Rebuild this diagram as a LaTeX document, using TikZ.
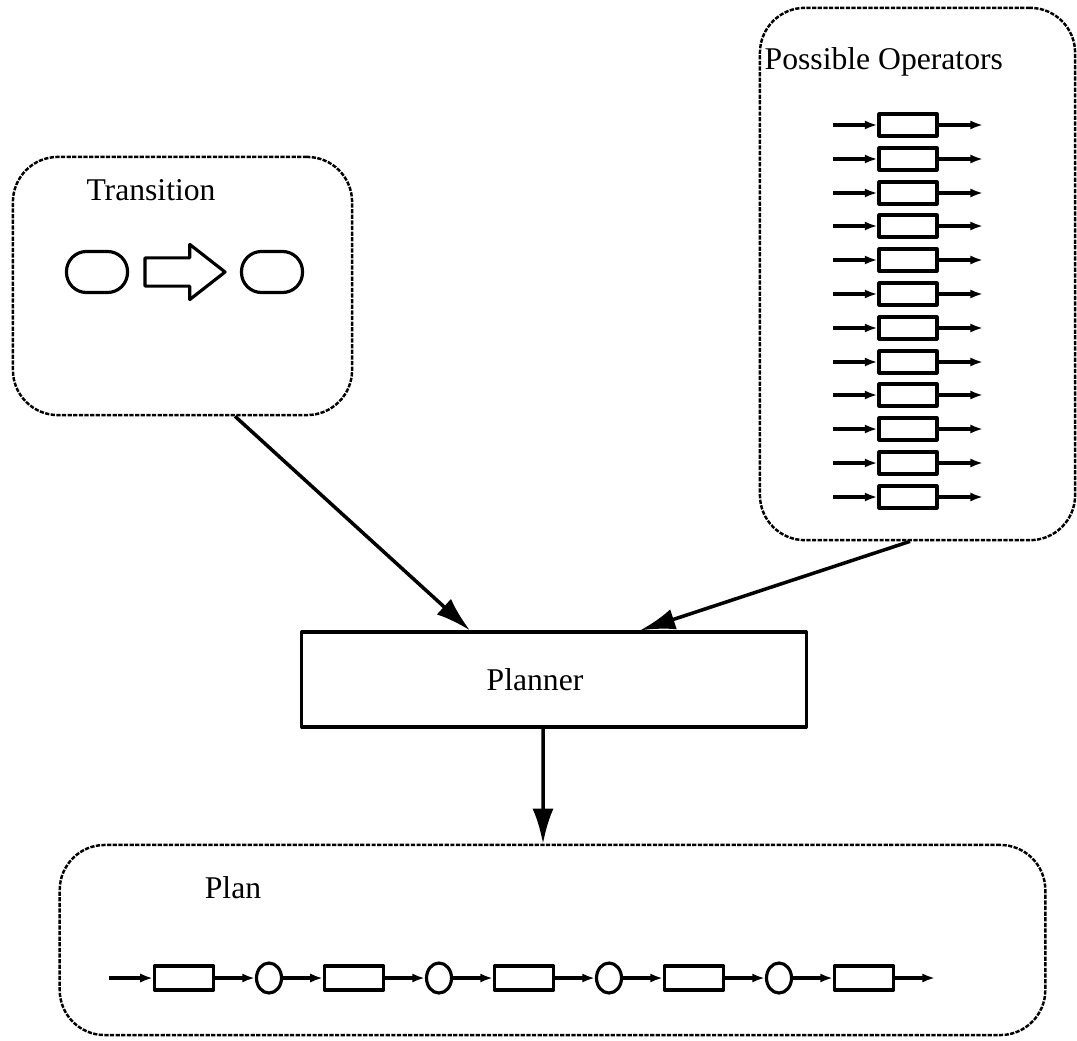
\documentclass[tikz,border=0pt]{standalone}
\usepackage{fontspec}
\setmainfont{Liberation Serif}
\usetikzlibrary{arrows.meta}
\usetikzlibrary{shapes.arrows}
\usetikzlibrary{shapes.geometric}

\begin{document}
\begin{tikzpicture}[x=0.01cm, y=-0.01cm, line join=round,
  every node/.style={font=\fontsize{9}{11}\selectfont},
  panel/.style={draw, rounded corners=0.45cm, line width=0.7pt, dash pattern=on 1.2pt off 0.4pt},
  opbox/.style={draw, line width=0.9pt, minimum width=0.58cm, minimum height=0.22cm, inner sep=0pt},
  planbox/.style={draw, line width=0.9pt, minimum width=0.59cm, minimum height=0.24cm, inner sep=0pt},
  statedot/.style={draw, ellipse, line width=0.9pt, minimum width=0.25cm, minimum height=0.30cm, inner sep=0pt},
  pill/.style={draw, line width=0.9pt, rounded corners=0.2cm, minimum width=0.61cm, minimum height=0.41cm, inner sep=0pt},
  bigarrow/.style={-{Latex[length=10pt, width=6pt]}, line width=1pt},
  smallarrow/.style={-{Latex[length=3.6pt, width=2.6pt]}, line width=0.9pt}]

\useasboundingbox (0,0) rectangle (1077,1040);

% the three panels and the planner
\node[panel, minimum width=3.39cm, minimum height=2.58cm] (trans) at (182.5,286) {};
\node[panel, minimum width=3.15cm, minimum height=5.32cm] (ops) at (917.5,274) {};
\node[panel, minimum width=9.85cm, minimum height=1.90cm] (plan) at (552.5,940) {};
\node[draw, line width=0.9pt, minimum width=5.04cm, minimum height=0.95cm] (planner) at (554,679.5) {};

\node (transtitle) at (151,190) {Transition};
\node[anchor=west, inner sep=0pt] (opstitle) at (764,62) {Possible Operators};
\node (plannertitle) at (535,680) {Planner};
\node (plantitle) at (233,888) {Plan};

% transition
\node[pill] (before) at (97,272) {};
\node[pill] (after) at (272,272) {};
\node[draw, single arrow, line width=0.9pt, inner sep=0pt, inner ysep=0.125cm,
      minimum height=0.8cm, single arrow head extend=0.135cm,
      single arrow tip angle=76] (change) at (176,272) {};

% possible operators
\node[opbox] (op1) at (908,125) {};  \coordinate (op1in) at (833,125); \coordinate (op1out) at (983,125);
\node[opbox] (op2) at (908,159) {};  \coordinate (op2in) at (833,159); \coordinate (op2out) at (983,159);
\node[opbox] (op3) at (908,193) {};  \coordinate (op3in) at (833,193); \coordinate (op3out) at (983,193);
\node[opbox] (op4) at (908,226) {};  \coordinate (op4in) at (833,226); \coordinate (op4out) at (983,226);
\node[opbox] (op5) at (908,260) {};  \coordinate (op5in) at (833,260); \coordinate (op5out) at (983,260);
\node[opbox] (op6) at (908,294) {};  \coordinate (op6in) at (833,294); \coordinate (op6out) at (983,294);
\node[opbox] (op7) at (908,328) {};  \coordinate (op7in) at (833,328); \coordinate (op7out) at (983,328);
\node[opbox] (op8) at (908,362) {};  \coordinate (op8in) at (833,362); \coordinate (op8out) at (983,362);
\node[opbox] (op9) at (908,395) {};  \coordinate (op9in) at (833,395); \coordinate (op9out) at (983,395);
\node[opbox] (op10) at (908,429) {}; \coordinate (op10in) at (833,429); \coordinate (op10out) at (983,429);
\node[opbox] (op11) at (908,463) {}; \coordinate (op11in) at (833,463); \coordinate (op11out) at (983,463);
\node[opbox] (op12) at (908,497) {}; \coordinate (op12in) at (833,497); \coordinate (op12out) at (983,497);

\draw[smallarrow] (op1in) -- (op1);   \draw[smallarrow] (op1) -- (op1out);
\draw[smallarrow] (op2in) -- (op2);   \draw[smallarrow] (op2) -- (op2out);
\draw[smallarrow] (op3in) -- (op3);   \draw[smallarrow] (op3) -- (op3out);
\draw[smallarrow] (op4in) -- (op4);   \draw[smallarrow] (op4) -- (op4out);
\draw[smallarrow] (op5in) -- (op5);   \draw[smallarrow] (op5) -- (op5out);
\draw[smallarrow] (op6in) -- (op6);   \draw[smallarrow] (op6) -- (op6out);
\draw[smallarrow] (op7in) -- (op7);   \draw[smallarrow] (op7) -- (op7out);
\draw[smallarrow] (op8in) -- (op8);   \draw[smallarrow] (op8) -- (op8out);
\draw[smallarrow] (op9in) -- (op9);   \draw[smallarrow] (op9) -- (op9out);
\draw[smallarrow] (op10in) -- (op10); \draw[smallarrow] (op10) -- (op10out);
\draw[smallarrow] (op11in) -- (op11); \draw[smallarrow] (op11) -- (op11out);
\draw[smallarrow] (op12in) -- (op12); \draw[smallarrow] (op12) -- (op12out);

% plan
\coordinate (planin) at (109,978);
\node[planbox] (act1) at (184,978) {};
\node[statedot] (s1) at (269,978) {};
\node[planbox] (act2) at (354,978) {};
\node[statedot] (s2) at (439,978) {};
\node[planbox] (act3) at (524,978) {};
\node[statedot] (s3) at (609,978) {};
\node[planbox] (act4) at (694,978) {};
\node[statedot] (s4) at (779,978) {};
\node[planbox] (act5) at (864,978) {};
\coordinate (planout) at (935,978);

\draw[smallarrow] (planin) -- (act1);
\draw[smallarrow] (act1) -- (s1);
\draw[smallarrow] (s1) -- (act2);
\draw[smallarrow] (act2) -- (s2);
\draw[smallarrow] (s2) -- (act3);
\draw[smallarrow] (act3) -- (s3);
\draw[smallarrow] (s3) -- (act4);
\draw[smallarrow] (act4) -- (s4);
\draw[smallarrow] (s4) -- (act5);
\draw[smallarrow] (act5) -- (planout);

% into and out of the planner
\draw[bigarrow] ([xshift=0.525cm]trans.south) -- ([xshift=-0.84cm]planner.north);
\draw[bigarrow] ([xshift=-0.075cm]ops.south) -- ([xshift=0.86cm]planner.north);
\draw[bigarrow] ([xshift=-0.11cm]planner.south) -- ([xshift=-0.095cm]plan.north);

\end{tikzpicture}
\end{document}
